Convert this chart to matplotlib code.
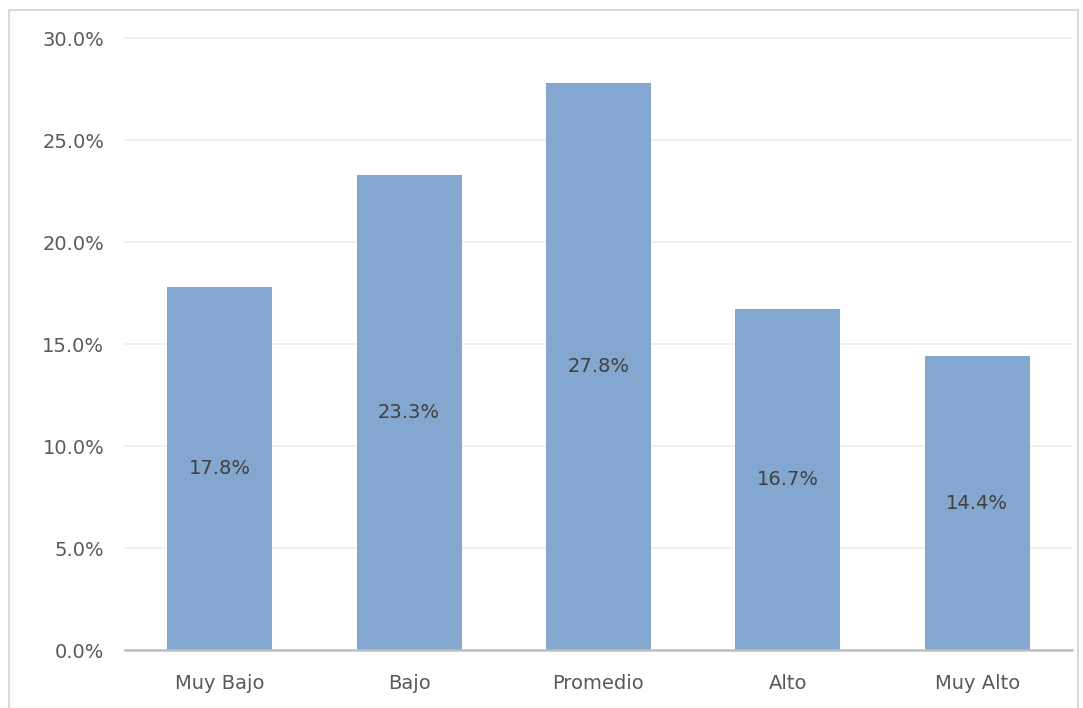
import matplotlib
matplotlib.use('Agg')
import matplotlib.pyplot as plt
from matplotlib.patches import Rectangle
from matplotlib.ticker import FuncFormatter

categories = ["Muy Bajo", "Bajo", "Promedio", "Alto", "Muy Alto"]
values = [17.8, 23.3, 27.8, 16.7, 14.4]
labels = ["17.8%", "23.3%", "27.8%", "16.7%", "14.4%"]
yticks = [0, 5, 10, 15, 20, 25, 30]

fig = plt.figure(figsize=(10.83, 7.08), dpi=100)
ax = fig.add_axes([125/1083, 1 - 650/708, (1072-125)/1083, (650-38)/708])

# outer chart border
fig.patches.append(Rectangle((9/1083, -0.01), (1078-9)/1083, 1 - 10/708 + 0.01,
                             transform=fig.transFigure, fill=False,
                             edgecolor="#d9d9d9", linewidth=1.5))

x = range(len(categories))
bars = ax.bar(x, values, width=0.555, color="#84a7d0", zorder=2)
for i, v in enumerate(values):
    ax.text(i, v / 2, labels[i], ha="center", va="center",
            fontsize=14, color="#404040", zorder=3)

ax.set_xlim(-0.5, len(categories) - 0.5)
ax.set_ylim(0, 30)
ax.set_yticks(yticks)
ax.yaxis.set_major_formatter(FuncFormatter(lambda v, p: "{:.1f}%".format(v)))
ax.set_xticks(list(x))
ax.set_xticklabels(categories)
ax.grid(axis="y", color="#ececec", linewidth=1.2, zorder=0)
for gl in ax.get_ygridlines():
    gl.set_clip_on(False)
ax.tick_params(axis="both", length=0, labelsize=14, labelcolor="#595959")
ax.tick_params(axis="y", pad=15)
ax.tick_params(axis="x", pad=17)
for s in ["top", "right", "left"]:
    ax.spines[s].set_visible(False)
ax.spines["bottom"].set_color("#bfbfbf")
ax.spines["bottom"].set_linewidth(1.8)
ax.spines["bottom"].set_zorder(4)

plt.savefig("out.png", dpi=100)
